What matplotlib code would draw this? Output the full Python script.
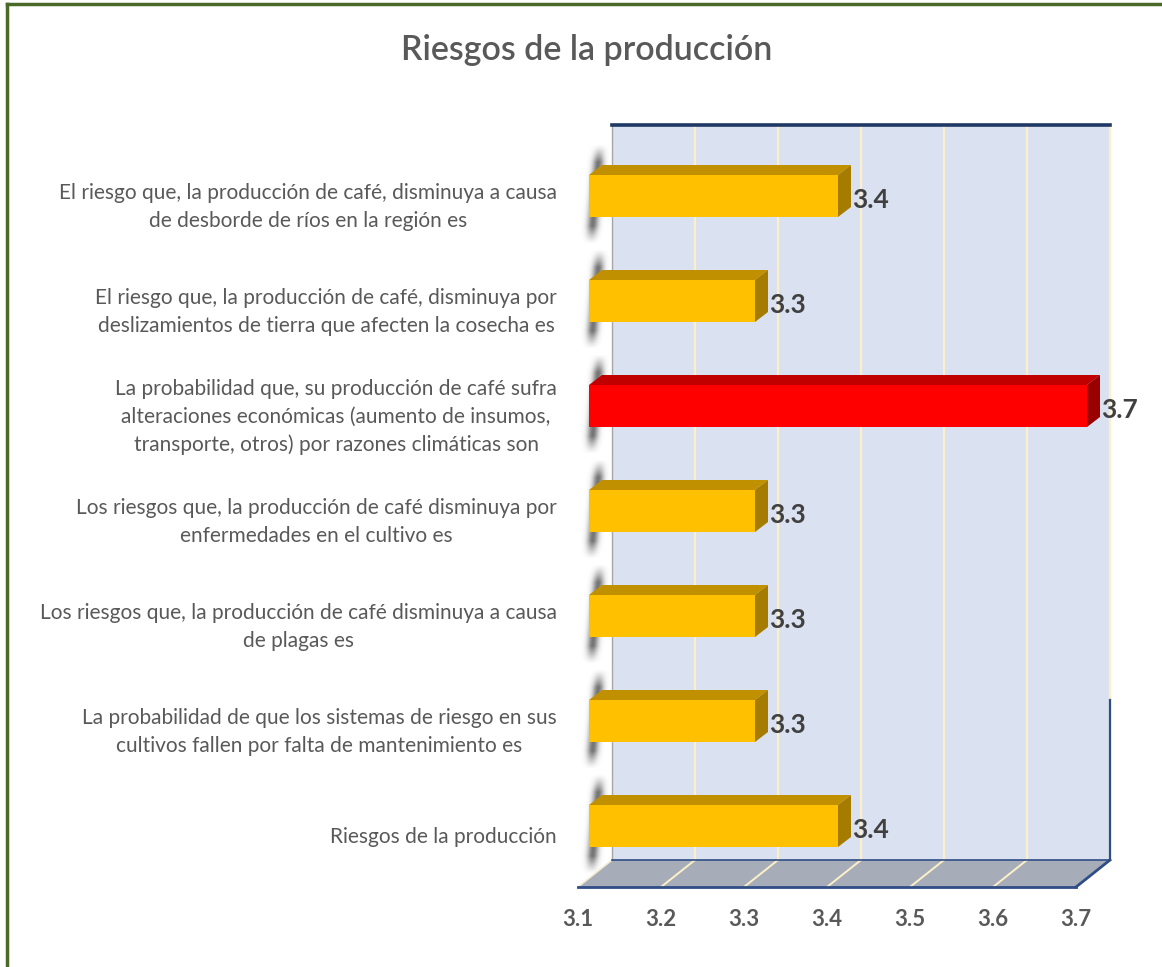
import matplotlib
matplotlib.use("Agg")
import matplotlib.pyplot as plt
import numpy as np
from matplotlib.patches import Polygon
from matplotlib.lines import Line2D

# ---------------- data ----------------
categories = [
    "El riesgo que, la producción de café, disminuya a causa\nde desborde de ríos en la región es",
    "El riesgo que, la producción de café, disminuya por\ndeslizamientos de tierra que afecten la cosecha es",
    "La probabilidad que, su producción de café sufra\nalteraciones económicas (aumento de insumos,\ntransporte, otros) por razones climáticas son",
    "Los riesgos que, la producción de café disminuya por\nenfermedades en el cultivo es",
    "Los riesgos que, la producción de café disminuya a causa\nde plagas es",
    "La probabilidad de que los sistemas de riesgo en sus\ncultivos fallen por falta de mantenimiento es",
    "Riesgos de la producción",
]
values = [3.4, 3.3, 3.7, 3.3, 3.3, 3.3, 3.4]
highlight = [False, False, True, False, False, False, False]
xticks = [3.1, 3.2, 3.3, 3.4, 3.5, 3.6, 3.7]
title = "Riesgos de la producción"

# ---------------- geometry (pixels) ----------------
W, H = 1162, 967
XMIN, XMAX = 3.1, 3.7
X0_PX = 589          # pixel of 3.1 at bar front plane
PX_PER_UNIT = 830    # pixels per 1.0 value
Y0_PX = 196          # first bar centre
PX_PER_CAT = 105

def dx(px):
    return px / PX_PER_UNIT

def cy(px):
    return (px - Y0_PX) / PX_PER_CAT

fig = plt.figure(figsize=(W / 100, H / 100), dpi=100)
ax = fig.add_axes([0, 0, 1, 1])

FONT = "Lato"
GRAY = "#595959"
DARK = "#404040"

# back wall
wall_dx = dx(23)
wl, wr = XMIN + wall_dx, XMAX + wall_dx
wt, wb = cy(125), cy(860)
ax.add_patch(Polygon([(wl, wt), (wr, wt), (wr, wb), (wl, wb)], closed=True,
                     facecolor="#dae1f1", edgecolor="none", zorder=1))
# wall grid
for t in xticks[1:]:
    ax.plot([t + wall_dx, t + wall_dx], [wt, wb], color="#fdf0c8", lw=1.6, zorder=2)
# wall edges
ax.plot([wl, wl], [wt, wb], color="#a6a6a6", lw=1.0, zorder=3)
ax.plot([wl, wr], [wt, wt], color="#1f3864", lw=2.6, zorder=3)
ax.plot([wr, wr], [cy(700), wb], color="#2f4d86", lw=1.6, zorder=3)

# floor
fl_dx = dx(-11)
ft = cy(887)
ax.add_patch(Polygon([(wl, wb), (wr, wb), (XMAX + fl_dx, ft), (XMIN + fl_dx, ft)], closed=True,
                     facecolor="#a6adb8", edgecolor="none", zorder=1))
for t in xticks[1:-1]:
    ax.plot([t + wall_dx, t + fl_dx], [wb, ft], color="#fdf0c8", lw=1.4, zorder=2)
ax.plot([wl, XMIN + fl_dx], [wb, ft], color="#f4ecd2", lw=1.2, zorder=2)
ax.plot([wl, wr], [wb, wb], color="#2f4d86", lw=1.2, zorder=3)
ax.plot([XMIN + fl_dx, XMAX + fl_dx], [ft, ft], color="#2f4d86", lw=2.0, zorder=3)
ax.plot([XMAX + fl_dx, wr], [ft, wb], color="#2f4d86", lw=2.0, zorder=3)

# tick labels
for t in xticks:
    ax.text(t + fl_dx, cy(920), f"{t:.1f}", ha="center", va="center", fontsize=16,
            fontweight="bold", color=GRAY, family=FONT, zorder=5)

# blurred shadow sprite (pixel grid), reused for each bar
SH_W, SH_H = 34, 100          # px
SH_LEFT = -9                  # px relative to bar start
sx = np.arange(SH_W)[None, :] + 0.5
sy = np.arange(SH_H)[:, None] + 0.5
centre = 20 - (sy / SH_H) * 9          # slanted centre line
dist = np.abs(sx - centre)
alpha = 0.72 * np.exp(-(dist / 5.5) ** 2)
taper = np.clip(np.minimum(sy, SH_H - sy) / 18.0, 0, 1) ** 1.3
alpha = alpha * taper
sprite = np.zeros((SH_H, SH_W, 4))
sprite[..., :3] = 0.25
sprite[..., 3] = alpha

# bars
bar_h = 42 / PX_PER_CAT
ddx, ddy = dx(13), -10 / PX_PER_CAT
ys = list(range(len(values)))
for yi, v, hl in zip(ys, values, highlight):
    fc, tc, sc = ("#ff0000", "#c00000", "#9a0000") if hl else ("#ffc000", "#c09000", "#a67c00")
    top = yi - bar_h / 2
    bot = yi + bar_h / 2
    # soft shadow at left
    ax.imshow(sprite, extent=(XMIN + dx(SH_LEFT), XMIN + dx(SH_LEFT + SH_W),
                              yi + (SH_H / 2 - 2) / PX_PER_CAT, yi - (SH_H / 2 + 2) / PX_PER_CAT),
              interpolation="bilinear", zorder=3, aspect="auto")
    # top face
    ax.add_patch(Polygon([(XMIN, top), (v, top), (v + ddx, top + ddy), (XMIN + ddx, top + ddy)],
                         closed=True, facecolor=tc, edgecolor="none", zorder=4))
    # side face
    ax.add_patch(Polygon([(v, top), (v + ddx, top + ddy), (v + ddx, bot + ddy), (v, bot)],
                         closed=True, facecolor=sc, edgecolor="none", zorder=4))
    ax.text(v + ddx + dx(1), yi + 4 / PX_PER_CAT, f"{v:.1f}", ha="left", va="center",
            fontsize=19, fontweight="bold", color=DARK, family=FONT, zorder=6)

ax.barh(ys, [v - XMIN for v in values], left=XMIN, height=bar_h,
        color=["#ff0000" if h else "#ffc000" for h in highlight], edgecolor="none", zorder=5)

# category labels
for yi, lab in zip(ys, categories):
    ax.text(XMIN - dx(589 - 557), yi + 11 / PX_PER_CAT, lab, ha="right", va="center",
            multialignment="center", fontsize=15, color=GRAY, family=FONT,
            linespacing=1.45, zorder=5)

# title
ax.text(XMIN + dx(587 - 589), cy(50), title, ha="center", va="center", fontsize=24.5,
        fontweight="semibold", color=GRAY, family=FONT, zorder=5)

ax.set_xlim(XMIN - X0_PX / PX_PER_UNIT, XMIN + (W - X0_PX) / PX_PER_UNIT)
ax.set_ylim(cy(H), cy(0))
ax.axis("off")

# chart border (dark green)
fig.add_artist(Line2D([7 / W, 7 / W], [0, 1 - 4 / H], color="#4a6a2a", lw=2.5,
                      transform=fig.transFigure))
fig.add_artist(Line2D([7 / W, 1], [1 - 4 / H, 1 - 4 / H], color="#4a6a2a", lw=2.5,
                      transform=fig.transFigure))

fig.savefig("out.png", dpi=100)
